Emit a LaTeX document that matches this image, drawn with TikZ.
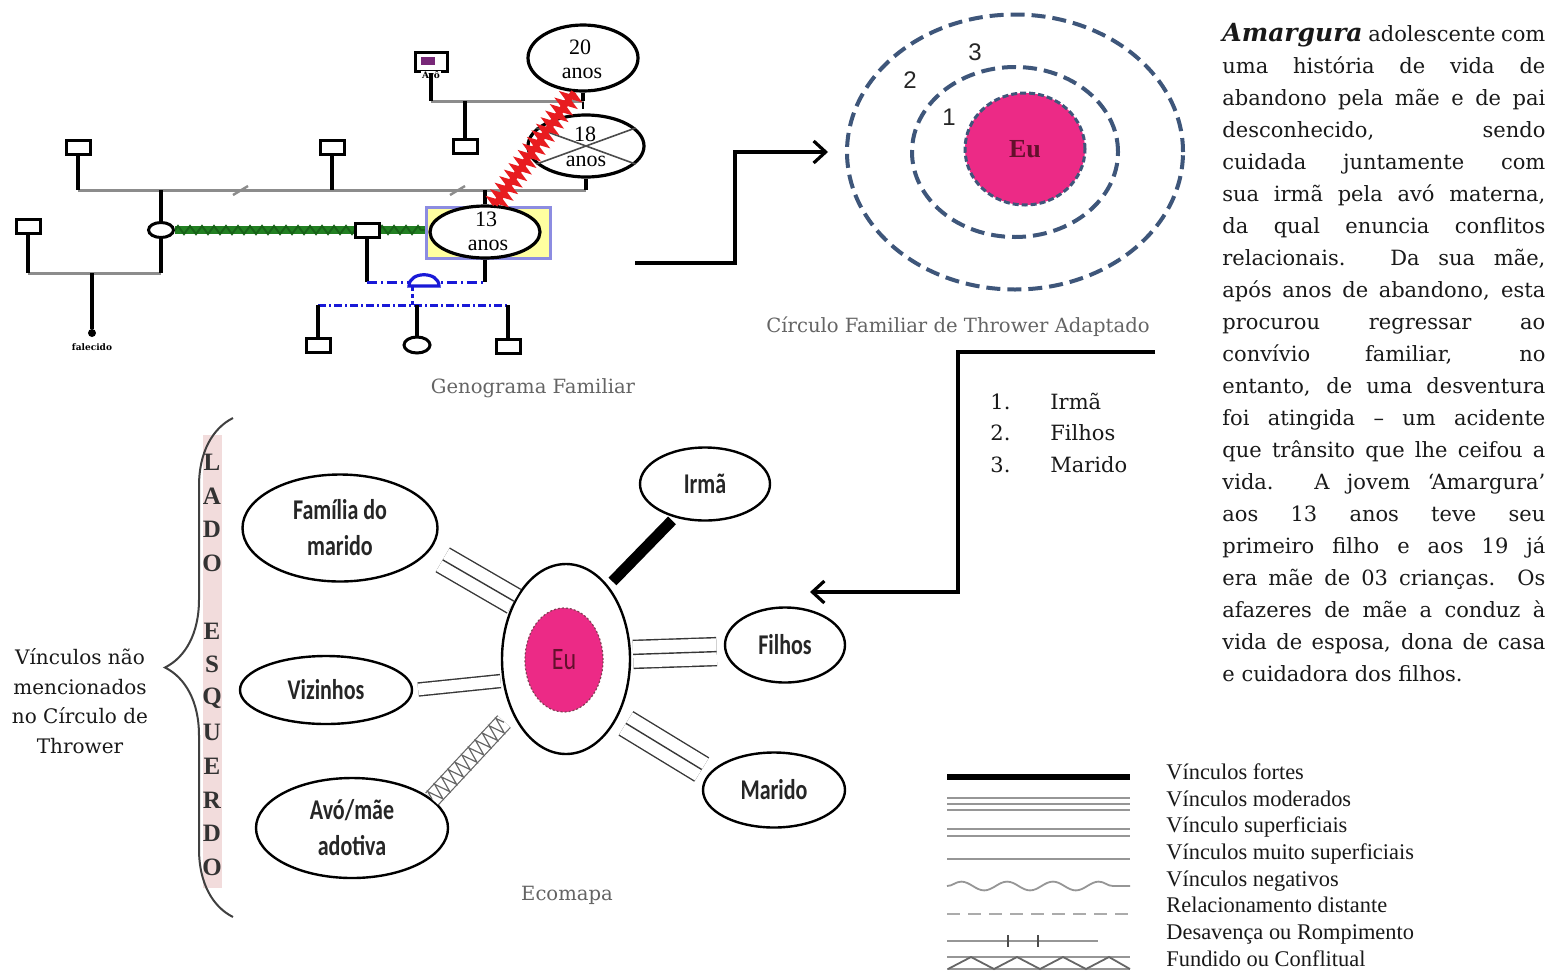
\documentclass[tikz,border=0pt]{standalone}
\usepackage{fontspec}
\setmainfont{DejaVu Serif}
\newfontfamily\tnr{Liberation Serif}
\newfontfamily\sansnum{Liberation Sans}
\newfontfamily\calib{Carlito}
\usetikzlibrary{arrows.meta,decorations.pathmorphing,decorations.pathreplacing,shapes.geometric,calc}

\definecolor{hotpink}{RGB}{236,42,134}
\definecolor{ringblue}{RGB}{62,86,122}
\definecolor{capgrey}{RGB}{100,100,100}
\definecolor{genogrey}{RGB}{140,140,140}
\definecolor{gengreen}{RGB}{34,128,34}
\definecolor{darkgreen}{RGB}{20,90,20}
\definecolor{genred}{RGB}{232,28,32}
\definecolor{genblue}{RGB}{25,25,215}
\definecolor{stripbg}{RGB}{242,220,220}
\definecolor{eutext}{RGB}{100,16,44}
\definecolor{boxyellow}{RGB}{255,255,160}
\definecolor{boxedge}{RGB}{140,140,225}
\definecolor{avopurple}{RGB}{120,40,120}
\definecolor{bondgrey}{RGB}{55,55,55}
\definecolor{leggrey}{RGB}{150,150,150}

% Calibri-like labels of the ecomap are set a little taller than wide
\newcommand\tall[1]{\scalebox{1}[1.3]{#1}}
% one justified line of the side paragraph
\newcommand\parline[3]{\node[pline] (#1) at (1222,#2) {\makebox[161.5pt][s]{#3}};}

\begin{document}
\begin{tikzpicture}[x=0.5pt,y=-0.5pt,
  kin/.style={line width=2pt,black},
  marline/.style={line width=1.5pt,genogrey},
  malebox/.style={draw,line width=1.5pt,rectangle,minimum width=12pt,minimum height=7pt,inner sep=0pt,fill=white},
  femalebox/.style={draw,line width=1.5pt,ellipse,minimum width=12.5pt,minimum height=7.5pt,inner sep=0pt,fill=white},
  ageoval/.style={draw,line width=1.6pt,ellipse,inner sep=0pt,fill=white},
  agetext/.style={font=\tnr\fontsize{11}{13}\selectfont,inner sep=0pt},
  ring/.style={draw=ringblue,line width=2pt,dash pattern=on 7pt off 3.5pt,ellipse,inner sep=0pt},
  ringnum/.style={font=\sansnum\fontsize{12}{12}\selectfont,text=black!85,inner sep=0pt},
  flow/.style={line width=2pt,black,-{Straight Barb[length=6pt,width=11pt,line width=1.6pt]}},
  ecoval/.style={draw,line width=1.2pt,ellipse,inner sep=0pt,fill=white},
  ecotext/.style={font=\calib\bfseries\fontsize{11}{18}\selectfont,align=center,inner sep=0pt,text=black!85},
  bond/.style={line width=0.7pt,draw=bondgrey},
  bondpair/.style={bond,double=white},
  caption/.style={font=\fontsize{9.8}{12}\selectfont,text=capgrey,inner sep=0pt},
  pline/.style={anchor=base west,inner sep=0pt,font=\fontsize{10.5}{16}\selectfont,text=black!90},
  listtext/.style={anchor=base west,inner sep=0pt,font=\fontsize{10.5}{16}\selectfont,text=black!90},
  legtext/.style={anchor=base west,inner sep=0pt,font=\tnr\fontsize{11.2}{13}\selectfont,text=black!90},
  ladotext/.style={font=\tnr\bfseries\fontsize{12.5}{12.5}\selectfont,text=black!80,inner sep=0pt},
  tiny/.style={font=\bfseries\fontsize{4.5}{5}\selectfont,inner sep=0pt}
]
\fill[white] (0,0) rectangle (1551,975);
\useasboundingbox (0,0) rectangle (1551,975);

%% ---------------- Genogram ----------------
% marriage / sibling lines
\coordinate (m1L) at (431,101);
\coordinate (m1R) at (584,101);
\coordinate (m2L) at (78,190);
\coordinate (m2R) at (586,190);
\coordinate (m3L) at (28,273);
\coordinate (m3R) at (161,273);
\coordinate (m3C) at (92,273);
\coordinate (b1L) at (367,282);
\coordinate (b2L) at (318,305);
\coordinate (b2R) at (508,305);
\coordinate (dome) at (412,287);

\draw[marline] (m1L) -- (m1R);
\draw[marline] (m2L) -- (m2R);
\draw[marline] (m3L) -- (m3R);
% small break marks on the long line
\draw[genogrey,line width=1.2pt] (233,195) -- (248,186);
\draw[genogrey,line width=1.2pt] (450,195) -- (465,186);

% people
\node[malebox,minimum width=16pt,minimum height=9.5pt] (avo) at (431,62) {};
\fill[avopurple] (421,57) rectangle (435,65);
\node[tiny,fill=white,inner sep=0.3pt] (avolbl) at (431,75) {Avô};
\node[malebox] (s465) at (465,146) {};
\node[malebox] (s78) at (78,147) {};
\node[malebox] (s332) at (332,147) {};
\node[malebox] (s28) at (28,226) {};
\node[femalebox] (c162) at (161,230) {};
\node[circle,fill=black,inner sep=0pt,minimum size=4pt] (d92) at (92,333) {};
\node[tiny] (d92lbl) at (92,347) {falecido};

\draw[kin] (avo.south) -- (m1L);
\draw[kin] (s465.north) -- (s465.north |- m1L);
\draw[kin] (s78.south) -- (s78.south |- m2L);
\draw[kin] (s332.south) -- (s332.south |- m2L);
\draw[kin] (c162.north) -- (c162.north |- m2L);
\draw[kin] (c162.south) -- (m3R);
\draw[kin] (s28.south) -- (m3L);
\draw[kin] (m3C) -- (d92);

% the three sisters
\node[draw=boxedge,fill=boxyellow,line width=1.5pt,minimum width=62pt,minimum height=25.5pt,inner sep=0pt] (ybox) at (488,232.5) {};
\node[ageoval,minimum width=55pt,minimum height=33pt] (a20) at (583,58) {};
\node[ageoval,minimum width=58pt,minimum height=31pt] (a18) at (586,146) {};
\node[ageoval,minimum width=55pt,minimum height=26pt] (a13) at (485,232) {};
\draw[black!70,line width=0.8pt] (a18.160) -- (a18.-20) (a18.200) -- (a18.20);
\node[agetext] (t20a) at (580,47) {20};
\node[agetext] (t20b) at (582,73) {anos};
\node[agetext] (t18a) at (585,134) {18};
\node[agetext] (t18b) at (586,161) {anos};
\node[agetext] (t13a) at (486,219) {13};
\node[agetext] (t13b) at (488,245) {anos};

\draw[kin] (a20.south) -- (a20.south |- m1R);
\draw[black,line width=1.2pt] (583,102) -- (583,109);
\draw[kin] (a18.south) -- (a18.south |- m2R);
\draw[kin] (a13.north) -- (a13.north |- m2R);

% conflict between the sisters
\draw[genred,line width=3pt] (a13.70) -- (a20.255);
\draw[genred,line width=2.2pt,decorate,decoration={zigzag,segment length=4pt,amplitude=3pt}] (a13.70) -- (a20.255);

% fused bond with the first partner
\draw[gengreen,line width=3.6pt] (c162.east) -- (c162.east -| ybox.west);
\draw[darkgreen!80!gengreen,line width=1pt,decorate,decoration={zigzag,segment length=6pt,amplitude=2pt}] (c162.east) -- (c162.east -| ybox.west);
\node[malebox] (s367) at (367,230) {};

% union and children
\draw[kin] (s367.south) -- (b1L);
\draw[kin] (a13.south) -- (a13.south |- b1L);
\draw[genblue,line width=1.5pt,dash pattern=on 5pt off 2pt on 1pt off 2pt] (b1L) -- (a13.south |- b1L);
\draw[genblue,line width=1.5pt,dash pattern=on 2pt off 1.5pt] (dome) -- (dome |- b2L);
\draw[genblue,line width=1.6pt,fill=white] (409,286) .. controls (409,271) and (439,271) .. (439,286) -- cycle;
\draw[genblue,line width=1.5pt,dash pattern=on 4pt off 1.5pt on 1pt off 1.5pt] (b2L) -- (b2R);
\node[malebox] (s318) at (318,345) {};
\node[femalebox,minimum width=13pt,minimum height=8pt] (c417) at (417,345) {};
\node[malebox] (s508) at (508,346) {};
\draw[kin] (s318.north) -- (b2L);
\draw[kin] (c417.north) -- (c417.north |- b2L);
\draw[kin] (s508.north) -- (b2R);

\node[caption] (capgeno) at (533,388) {Genograma Familiar};

%% ---------------- Thrower circle ----------------
\node[ring,minimum width=168pt,minimum height=137.5pt] (ring3) at (1015,152) {};
\node[ring,minimum width=103pt,minimum height=85pt] (ring2) at (1015,152) {};
\node[ring,fill=hotpink,line width=1.5pt,dash pattern=on 3pt off 1.5pt,minimum width=60pt,minimum height=56pt,
      font=\tnr\bfseries\fontsize{13}{13}\selectfont,text=eutext] (ring1) at (1025,149) {Eu};
\node[ringnum] (n1) at (949,117) {1};
\node[ringnum] (n2) at (910,80) {2};
\node[ringnum] (n3) at (975,52) {3};
\node[caption] (capring) at (958,327) {Círculo Familiar de Thrower Adaptado};

\coordinate (g0) at (635,263);
\coordinate (g1) at (735,152);
\draw[flow,shorten >=8.5pt] (g0) -| (g1) -- (ring3.west);

\coordinate (k0) at (1155,352);
\coordinate (k1) at (958,592);
\coordinate (k2) at (810,592);
\draw[flow,line width=1.8pt] (k0) -| (k1) -- (k2);

\node[listtext] (l1n) at (990,409) {1.};
\node[listtext] (l1t) at (1050,409) {Irmã};
\node[listtext] (l2n) at (990,440) {2.};
\node[listtext] (l2t) at (1050,440) {Filhos};
\node[listtext] (l3n) at (990,472) {3.};
\node[listtext] (l3t) at (1050,472) {Marido};

%% ---------------- Ecomap ----------------
\node[ecoval,minimum width=64pt,minimum height=95pt] (eu) at (566,659) {};
\node[ellipse,draw=eutext!80,fill=hotpink,line width=0.6pt,dash pattern=on 1pt off 1pt,minimum width=39pt,minimum height=52pt,inner sep=0pt,
      font=\calib\fontsize{12}{12}\selectfont,text=eutext] (euin) at (564,660) {\tall{Eu}};
\node[ecoval,minimum width=65pt,minimum height=36.5pt,label={[ecotext]center:\tall{Irmã}}] (irma) at (705,484) {};
\node[ecoval,minimum width=60pt,minimum height=37.5pt,label={[ecotext]center:\tall{Filhos}}] (filhos) at (785,645) {};
\node[ecoval,minimum width=71pt,minimum height=37.5pt,label={[ecotext]center:\tall{Marido}}] (marido) at (774,790) {};
\node[ecoval,minimum width=97.5pt,minimum height=53.5pt,label={[ecotext]center:{\tall{Família do}\\\tall{marido}}}] (fam) at (340,528) {};
\node[ecoval,minimum width=86pt,minimum height=34pt,label={[ecotext]center:\tall{Vizinhos}}] (viz) at (326,690) {};
\node[ecoval,minimum width=96pt,minimum height=50pt,label={[ecotext]center:{\tall{Avó/mãe}\\\tall{adotiva}}}] (avom) at (352,828) {};

% strong bond
\draw[line width=5.5pt,black,shorten <=3pt,shorten >=2pt] (eu.60) -- (irma.228);
% moderate bonds: three lines
\draw[bondpair,double distance=12.9pt,shorten <=8pt] (fam.-15) -- (eu.132);
\draw[bond,shorten <=8pt] (fam.-15) -- (eu.132);
\draw[bondpair,double distance=13.3pt,shorten <=1pt,shorten >=4pt] (eu.4) -- (filhos.186);
\draw[bond,shorten <=1pt,shorten >=4pt] (eu.4) -- (filhos.186);
\draw[bondpair,double distance=12.9pt,shorten <=5pt,shorten >=4pt] (eu.-49) -- (marido.166);
\draw[bond,shorten <=5pt,shorten >=4pt] (eu.-49) -- (marido.166);
% superficial bond: two lines
\draw[bondpair,double distance=5.8pt,shorten <=2.5pt,shorten >=1pt] (viz.east) -- (eu.199.5);
% fused / conflictual bond
\coordinate (avoEnd) at ($(avom.20)!0.9!(eu.225)$);
\draw[bondpair,draw=black!60,line width=0.6pt,double distance=8pt] (avom.20) -- (avoEnd);
\draw[black!60,line width=0.6pt,decorate,decoration={zigzag,segment length=5pt,amplitude=4pt}] (avom.20) -- (avoEnd);

\node[caption] (capeco) at (567,895) {Ecomapa};

% left side bracket
\fill[stripbg] (203,435) rectangle (222,888);
\foreach \k/\ch in {0/L,1/A,2/D,3/O,5/E,6/S,7/Q,8/U,9/E,10/R,11/D,12/O}
  \node[ladotext] (lado\k) at (212,{462+33.8*\k}) {\ch};
\coordinate (bbot) at (233,917);
\coordinate (btop) at (233,418);
\draw[black!75,line width=1pt,decorate,decoration={brace,amplitude=34pt}] (bbot) -- (btop);
\node[align=center,inner sep=0pt,font=\fontsize{10}{14.8}\selectfont,text=black!90] (naomenc) at (80,701)
  {Vínculos não\\mencionados\\no Círculo de\\Thrower};

%% ---------------- Legend ----------------
\draw[black,line width=3pt] (947,777) -- (1130,777);
\foreach \yy in {798,804,810} \draw[leggrey,line width=0.7pt] (947,\yy) -- (1130,\yy);
\foreach \yy in {829,836} \draw[leggrey,line width=0.7pt] (947,\yy) -- (1130,\yy);
\draw[leggrey,line width=0.8pt] (947,859) -- (1130,859);
\draw[leggrey,line width=0.9pt,decorate,decoration={snake,segment length=22.9pt,amplitude=2.2pt}] (947,886) -- (1130,886);
\draw[leggrey!80,line width=1pt,dash pattern=on 6.5pt off 4pt] (947,914) -- (1130,914);
\draw[leggrey,line width=0.8pt] (947,941) -- (1098,941);
\draw[black!70,line width=1.2pt] (1008,935) -- (1008,947) (1038,935) -- (1038,947);
\draw[leggrey,line width=0.7pt] (947,957) -- (1130,957) (947,969) -- (1130,969);
\draw[black!60,line width=0.9pt] (948,969) -- (971,957) -- (994,969) -- (1017,957) -- (1040,969) -- (1063,957) -- (1086,969) -- (1109,957) -- (1130,969);

\node[legtext] (lg1) at (1166,779) {Vínculos fortes};
\node[legtext] (lg2) at (1166,806) {Vínculos moderados};
\node[legtext] (lg3) at (1166,832) {Vínculo superficiais};
\node[legtext] (lg4) at (1166,859) {Vínculos muito superficiais};
\node[legtext] (lg5) at (1166,886) {Vínculos negativos};
\node[legtext] (lg6) at (1166,912) {Relacionamento distante};
\node[legtext] (lg7) at (1166,939) {Desavença ou Rompimento};
\node[legtext] (lg8) at (1166,966) {Fundido ou Conflitual};

%% ---------------- Case description ----------------
\parline{p01}{41}{{\fontsize{12.5}{16}\selectfont\bfseries\itshape Amargura} adolescente com}
\parline{p02}{73}{uma história de vida de}
\parline{p03}{105}{abandono pela mãe e de pai}
\parline{p04}{137}{desconhecido, sendo}
\parline{p05}{169}{cuidada juntamente com}
\parline{p06}{201}{sua irmã pela avó materna,}
\parline{p07}{233}{da qual enuncia conflitos}
\parline{p08}{265}{relacionais. Da sua mãe,}
\parline{p09}{297}{após anos de abandono, esta}
\parline{p10}{329}{procurou regressar ao}
\parline{p11}{361}{convívio familiar, no}
\parline{p12}{393}{entanto, de uma desventura}
\parline{p13}{425}{foi atingida – um acidente}
\parline{p14}{457}{que trânsito que lhe ceifou a}
\parline{p15}{489}{vida. A jovem ‘Amargura’}
\parline{p16}{521}{aos 13 anos teve seu}
\parline{p17}{553}{primeiro filho e aos 19 já}
\parline{p18}{585}{era mãe de 03 crianças. Os}
\parline{p19}{617}{afazeres de mãe a conduz à}
\parline{p20}{649}{vida de esposa, dona de casa}
\node[pline] (p21) at (1222,681) {e cuidadora dos filhos.};

\end{tikzpicture}
\end{document}
